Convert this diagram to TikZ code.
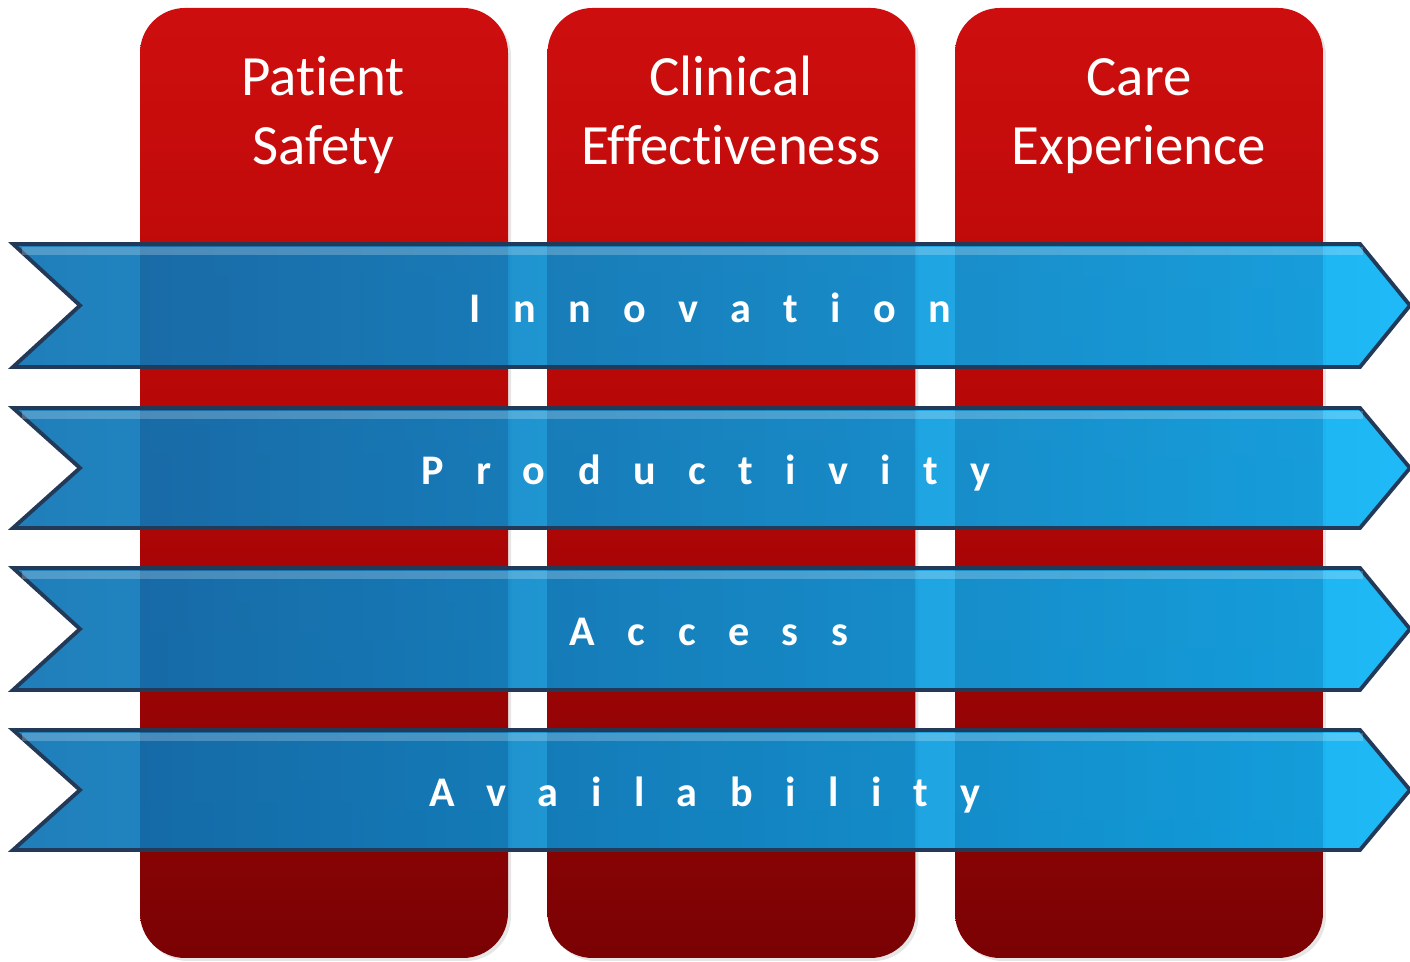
\documentclass[tikz,border=0pt]{standalone}
\usepackage{fontspec}
\setmainfont{Carlito}[Ligatures=NoCommon]
\usetikzlibrary{shadows}

\definecolor{pillartop}{RGB}{206,14,14}
\definecolor{pillarmid}{RGB}{178,6,6}
\definecolor{pillarbot}{RGB}{122,2,4}
\definecolor{bandleft}{RGB}{8,112,178}
\definecolor{bandright}{RGB}{6,178,246}
\definecolor{bandedge}{RGB}{34,58,88}

\tikzset{
  pillar/.style={rounded corners=0.45cm, top color=pillartop, bottom color=pillarbot,
    middle color=pillarmid, minimum width=3.68cm, minimum height=9.50cm, inner sep=0pt,
    drop shadow={opacity=0.2, shadow xshift=0.03cm, shadow yshift=-0.03cm}},
  head/.style={anchor=base, align=center, text=white,
    font=\fontsize{16.2}{19.9}\selectfont},
  band/.style={left color=bandleft, right color=bandright, fill opacity=0.9,
    draw=bandedge, line width=1.1pt},
  bandlight/.style={white, opacity=0.22, line width=2.5pt},
  bandtext/.style={anchor=base, text=white,
    font=\bfseries\fontsize{12}{14}\selectfont\addfontfeature{LetterSpace=77}}
}

\begin{document}
\begin{tikzpicture}
  \useasboundingbox (0,0) rectangle (14.10,9.62);

  % pillars
  \node[pillar] (safety) at (3.24,4.79) {};
  \node[pillar] (clinical) at (7.315,4.79) {};
  \node[pillar] (care) at (11.39,4.79) {};

  \node[head] (safetyhd) at (3.23,7.97) {Patient\\Safety};
  \node[head] (clinicalhd) at (7.31,7.97) {Clinical\\Effectiveness};
  \node[head] (carehd) at (11.39,7.97) {Care\\Experience};

  % bands
  \shade[band] (0.13,7.18) -- (13.60,7.18) -- (14.10,6.565) -- (13.60,5.95)
    -- (0.13,5.95) -- (0.80,6.565) -- cycle;
  \draw[bandlight] (0.22,7.11) -- (13.63,7.11);
  \node[bandtext] (innovation) at (7.10,6.39) {Innovation};

  \shade[band] (0.13,5.54) -- (13.60,5.54) -- (14.10,4.94) -- (13.60,4.34)
    -- (0.13,4.34) -- (0.80,4.94) -- cycle;
  \draw[bandlight] (0.22,5.47) -- (13.63,5.47);
  \node[bandtext] (productivity) at (7.06,4.77) {Productivity};

  \shade[band] (0.13,3.94) -- (13.60,3.94) -- (14.10,3.33) -- (13.60,2.72)
    -- (0.13,2.72) -- (0.80,3.33) -- cycle;
  \draw[bandlight] (0.22,3.87) -- (13.63,3.87);
  \node[bandtext] (access) at (7.09,3.16) {Access};

  \shade[band] (0.13,2.32) -- (13.60,2.32) -- (14.10,1.72) -- (13.60,1.12)
    -- (0.13,1.12) -- (0.80,1.72) -- cycle;
  \draw[bandlight] (0.22,2.25) -- (13.63,2.25);
  \node[bandtext] (availability) at (7.05,1.55) {Availability};
\end{tikzpicture}
\end{document}
